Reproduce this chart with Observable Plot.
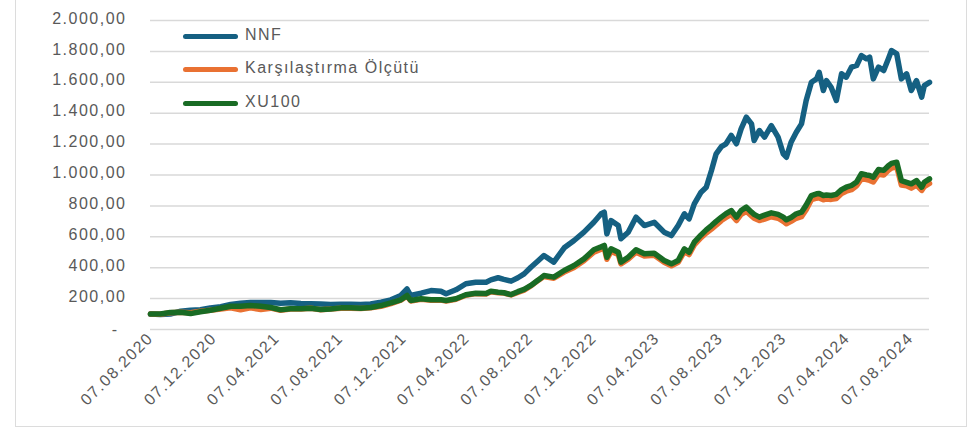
<!DOCTYPE html>
<html>
<head>
<meta charset="utf-8">
<script src="https://cdn.jsdelivr.net/npm/d3@7"></script>
<script src="https://cdn.jsdelivr.net/npm/@observablehq/plot@0.6"></script>
<style>
  html, body { margin: 0; padding: 0; background: #fff; }
  #wrap { position: relative; width: 971px; height: 430px; overflow: hidden; background: #fff; }
  #frame { position: absolute; left: 15px; top: -10px; width: 952px; height: 437px; box-sizing: border-box; border: 1.5px solid #dcdcdc; }
  #chart { position: absolute; left: 0; top: 0; }
  .leg { position: absolute; font-family: "Liberation Sans", Arial, sans-serif; font-size: 16px; letter-spacing: 1.5px; color: #595959; white-space: nowrap; line-height: 18px; }
  .sw { position: absolute; width: 55px; height: 5px; border-radius: 3px; }
</style>
</head>
<body>
<div id="wrap">
  <div id="frame"></div>
  <div id="chart"></div>
</div>
<script>
const dates = [
  "2020-08-07","2020-08-26","2020-09-14","2020-10-04","2020-10-23","2020-11-11","2020-11-30","2020-12-20","2021-01-08","2021-01-27",
  "2021-02-15","2021-03-07","2021-03-26","2021-04-14","2021-05-03","2021-05-23","2021-06-11","2021-06-30","2021-07-19","2021-08-08",
  "2021-08-27","2021-09-15","2021-10-04","2021-10-24","2021-11-12","2021-12-01","2021-12-13","2021-12-20","2022-01-09","2022-01-28",
  "2022-02-16","2022-02-26","2022-03-17","2022-04-05","2022-04-24","2022-05-14","2022-05-23","2022-06-06","2022-06-17","2022-07-01",
  "2022-07-14","2022-07-26","2022-08-08","2022-08-22","2022-09-02","2022-09-21","2022-10-11","2022-10-30","2022-11-18","2022-12-07",
  "2022-12-21","2022-12-27","2023-01-01","2023-01-09","2023-01-23","2023-01-28","2023-02-11","2023-02-26","2023-03-14","2023-04-02",
  "2023-04-21","2023-05-05","2023-05-18","2023-05-30","2023-06-08","2023-06-18","2023-07-01","2023-07-11","2023-07-21","2023-07-30",
  "2023-08-09","2023-08-18","2023-08-28","2023-09-07","2023-09-16","2023-09-26","2023-10-06","2023-10-11","2023-10-21","2023-10-31",
  "2023-11-13","2023-11-26","2023-12-06","2023-12-12","2023-12-21","2023-12-31","2024-01-10","2024-01-19","2024-01-29","2024-02-08",
  "2024-02-13","2024-02-21","2024-02-27","2024-03-07","2024-03-17","2024-03-27","2024-04-05","2024-04-15","2024-04-25","2024-05-04",
  "2024-05-14","2024-05-20","2024-05-27","2024-06-06","2024-06-16","2024-06-25","2024-07-01","2024-07-11","2024-07-20","2024-07-30",
  "2024-08-08","2024-08-18","2024-08-28","2024-09-02","2024-09-12"
];
const nnf = [
  100, 97, 100, 118, 125, 128, 140, 148, 162, 170,
  175, 174, 175, 170, 173, 168, 166, 165, 162, 164,
  163, 162, 165, 177, 192, 220, 262, 220, 235, 252,
  248, 231, 257, 296, 306, 306, 321, 335, 324, 313,
  335, 360, 403, 445, 479, 436, 529, 576, 630, 694,
  749, 759, 619, 705, 673, 587, 630, 727, 673, 694,
  630, 608, 673, 749, 716, 813, 889, 921, 1029, 1137,
  1184, 1202, 1256, 1202, 1299, 1374, 1331, 1223, 1288, 1245,
  1320, 1245, 1137, 1115, 1212, 1277, 1331, 1482, 1600, 1622,
  1665, 1547, 1611, 1568, 1482, 1655, 1633, 1698, 1709, 1773,
  1752, 1763, 1622, 1698, 1676, 1752, 1806, 1784, 1622, 1655,
  1547, 1611, 1504, 1579, 1600
];
const karsilastirma = [
  100, 99, 108, 112, 108, 118, 125, 133, 140, 128,
  140, 130, 138, 125, 132, 132, 137, 128, 132, 138,
  138, 136, 140, 150, 168, 190, 215, 185, 195, 190,
  190, 185, 196, 222, 232, 230, 244, 238, 236, 224,
  240, 255, 282, 318, 343, 332, 372, 402, 445, 500,
  520, 528, 455, 505, 485, 425, 455, 500, 475, 480,
  435, 412, 435, 505, 485, 548, 595, 625, 650, 675,
  705, 725, 745, 705, 745, 765, 735, 720, 705, 715,
  730, 720, 700, 685, 700, 720, 730, 775, 840, 850,
  852, 840, 845, 842, 848, 880, 895, 905, 930, 975,
  970, 965, 955, 1005, 1000, 1030, 1045, 1055, 935, 930,
  915, 935, 900, 925, 945
];
const xu100 = [
  100, 100, 110, 112, 103, 115, 125, 138, 150, 150,
  155, 150, 142, 128, 135, 135, 138, 130, 133, 140,
  140, 138, 142, 155, 172, 192, 220, 188, 199, 192,
  192, 188, 199, 225, 235, 233, 248, 241, 238, 226,
  245, 260, 285, 320, 349, 339, 382, 414, 457, 516,
  535, 544, 468, 522, 500, 436, 468, 516, 490, 494,
  447, 425, 447, 522, 500, 565, 612, 645, 673, 700,
  727, 750, 770, 727, 770, 792, 759, 745, 727, 740,
  755, 745, 727, 710, 725, 749, 759, 805, 867, 878,
  880, 867, 870, 867, 875, 905, 921, 932, 955, 1008,
  1000, 997, 986, 1035, 1030, 1060, 1075, 1083, 964, 953,
  943, 964, 921, 953, 975
];
const seriesNames = ["NNF", "Karşılaştırma Ölçütü", "XU100"];
const seriesColors = ["#156082", "#E97132", "#196B24"];
const xTickLabels = ["07.08.2020","07.12.2020","07.04.2021","07.08.2021","07.12.2021","07.04.2022","07.08.2022","07.12.2022","07.04.2023","07.08.2023","07.12.2023","07.04.2024","07.08.2024"];
const yTicks = [0, 200, 400, 600, 800, 1000, 1200, 1400, 1600, 1800, 2000];

const parseISO = d3.utcParse("%Y-%m-%d");
const parseTR = d3.utcParse("%d.%m.%Y");
const fmtTR = d3.utcFormat("%d.%m.%Y");
const trLocale = d3.formatLocale({decimal: ",", thousands: ".", grouping: [3], currency: ["", ""]});
const fmtNum = trLocale.format(",.2f");

const allValues = [nnf, karsilastirma, xu100];
const rows = seriesNames.map((name, i) => dates.map((d, j) => ({series: name, date: parseISO(d), value: allValues[i][j]})));
const xTicks = xTickLabels.map(parseTR);

const chart = Plot.plot({
  width: 971,
  height: 430,
  marginLeft: 150,
  marginRight: 42,
  marginTop: 20,
  marginBottom: 101,
  style: {fontFamily: "Liberation Sans, Arial, sans-serif", fontSize: "16px", color: "#595959", background: "transparent", letterSpacing: "1.5px"},
  x: {type: "utc", domain: [parseISO(dates[0]), parseISO(dates[dates.length - 1])], label: null},
  y: {domain: [0, 2000], label: null},
  marks: [
    Plot.gridY(yTicks, {stroke: "#d9d9d9", strokeOpacity: 1, strokeWidth: 1.5}),
    Plot.axisY(yTicks.filter(d => d !== 0), {tickSize: 0, tickPadding: 24, tickFormat: fmtNum, fill: "#595959", dy: -2, label: null}),
    Plot.axisY([0], {tickSize: 0, tickPadding: 32, tickFormat: () => "-", fill: "#595959", label: null}),
    Plot.axisX(xTicks, {tickSize: 0, tickPadding: 6, tickRotate: -45, tickFormat: fmtTR, fill: "#595959", label: null}),
    ...rows.map((r, i) => Plot.lineY(r, {x: "date", y: "value", stroke: seriesColors[i], strokeWidth: 5.5, strokeLinejoin: "round", strokeLinecap: "round"}))
  ]
});
document.getElementById("chart").appendChild(chart);

// legend
const wrap = document.getElementById("wrap");
const legY = [36, 69, 103];
seriesNames.forEach((name, i) => {
  const sw = document.createElement("div");
  sw.className = "sw";
  sw.style.left = "183px";
  sw.style.top = (legY[i] - 2.5) + "px";
  sw.style.background = seriesColors[i];
  wrap.appendChild(sw);
  const t = document.createElement("div");
  t.className = "leg";
  t.style.left = "245px";
  t.style.top = (legY[i] - 10) + "px";
  t.textContent = name;
  wrap.appendChild(t);
});
</script>
</body>
</html>
